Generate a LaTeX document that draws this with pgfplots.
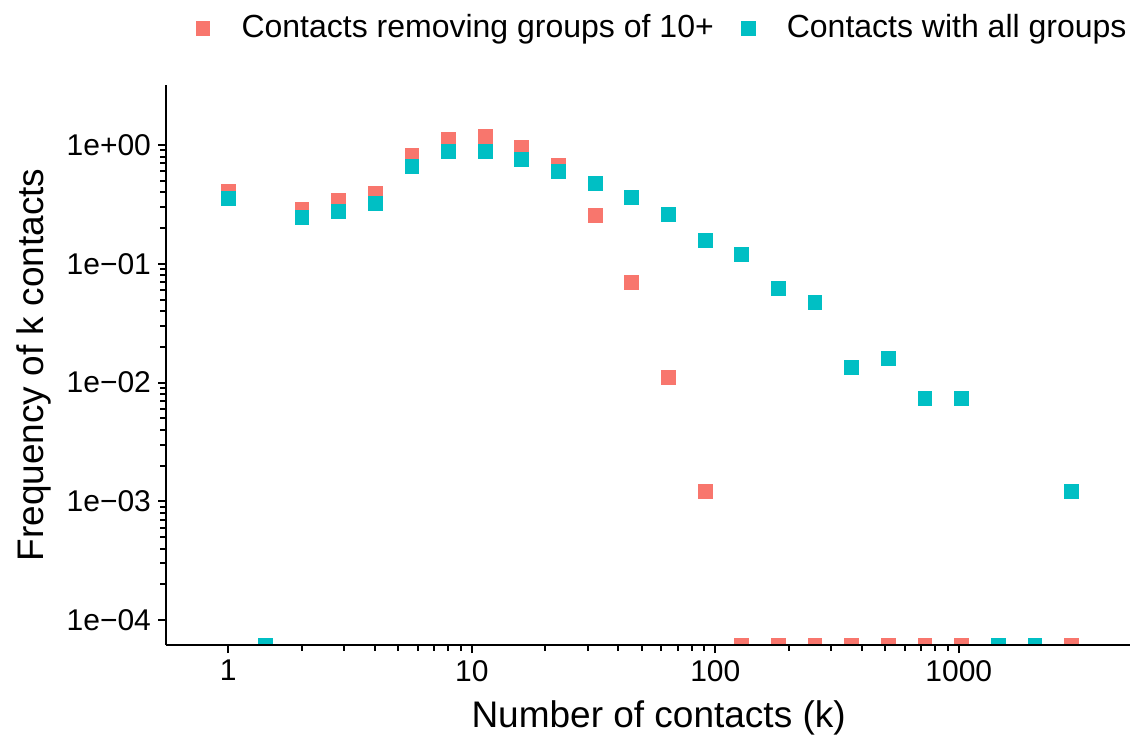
\documentclass[border=0pt]{standalone}
\usepackage{pgfplots}
\pgfplotsset{compat=1.18}
\usepackage{fontspec}
\setmainfont{Liberation Sans}
\definecolor{redg}{HTML}{F8766D}
\definecolor{tealg}{HTML}{00BFC4}
\begin{document}
\begin{tikzpicture}
\useasboundingbox (0,0) rectangle (567pt,368pt);
\begin{axis}[
  at={(83pt,45.5pt)}, anchor=south west,
  scale only axis, width=482pt, height=280pt,
  xmode=log, ymode=log,
  xmin=0.555, xmax=5050, ymin=6.166e-5, ymax=3.2,
  axis lines=left, axis line style={line width=1pt, -},
  axis on top, clip marker paths=true,
  tick align=outside, major tick length=4pt, minor tick num=0,
  tick style={line width=1pt, black},
  xtick={1,10,100,1000}, xticklabels={1,10,100,1000},
  ytick={1e-4,1e-3,1e-2,1e-1,1},
  yticklabels={1e−04,1e−03,1e−02,1e−01,1e+00},
  minor xtick={}, minor ytick={},
  ticklabel style={font=\fontsize{15}{18}\selectfont, black},
  xlabel={Number of contacts (k)}, ylabel={Frequency of k contacts},
  label style={font=\fontsize{18.5}{22}\selectfont},
  xlabel style={at={(rel axis cs:0.511,-0.148)}, anchor=base},
  ylabel style={at={(rel axis cs:-0.1266,0.5)}, anchor=base},
  legend style={draw=none, fill=none, at={(rel axis cs:0.5156,1.102)}, anchor=center,
    font=\fontsize{16}{19}\selectfont, legend columns=2,
    /tikz/every even column/.append style={column sep=11.5pt}},
  legend image code/.code={%
    \path[draw=none, fill=none] (-3.5pt,-3.5pt) (17.5pt,3.5pt);
    \draw[#1] plot coordinates {(0pt,0pt)};},
]
% zero counts sit on the lower edge (ymin)
\addplot[only marks, mark=square*, mark size=3.45pt, mark options={fill=redg, draw=redg, line width=0.1pt}] coordinates {
(1,0.41) (1.414,6.166e-5) (2,0.289) (2.828,0.344) (4,0.394) (5.657,0.824)
(8,1.12) (11.31,1.19) (16,0.962) (22.63,0.679) (32,0.257) (45.25,0.0702)
(64,0.0111) (90.51,0.00122) (128,6.166e-5) (181,6.166e-5) (256,6.166e-5)
(362,6.166e-5) (512,6.166e-5) (724,6.166e-5) (1024,6.166e-5) (1448,6.166e-5)
(2048,6.166e-5) (2896,6.166e-5)
};
\addlegendentry{Contacts removing groups of 10+}
\addplot[only marks, mark=square*, mark size=3.45pt, mark options={fill=tealg, draw=tealg, line width=0.1pt}] coordinates {
(1,0.358) (1.414,6.166e-5) (2,0.248) (2.828,0.278) (4,0.325) (5.657,0.666)
(8,0.890) (11.31,0.890) (16,0.762) (22.63,0.604) (32,0.479) (45.25,0.365)
(64,0.262) (90.51,0.158) (128,0.121) (181,0.0625) (256,0.0476) (362,0.0135)
(512,0.0161) (724,0.0074) (1024,0.0074) (1448,6.166e-5) (2048,6.166e-5)
(2896,0.00122)
};
\addlegendentry{Contacts with all groups}
\end{axis}
\end{tikzpicture}
\end{document}
